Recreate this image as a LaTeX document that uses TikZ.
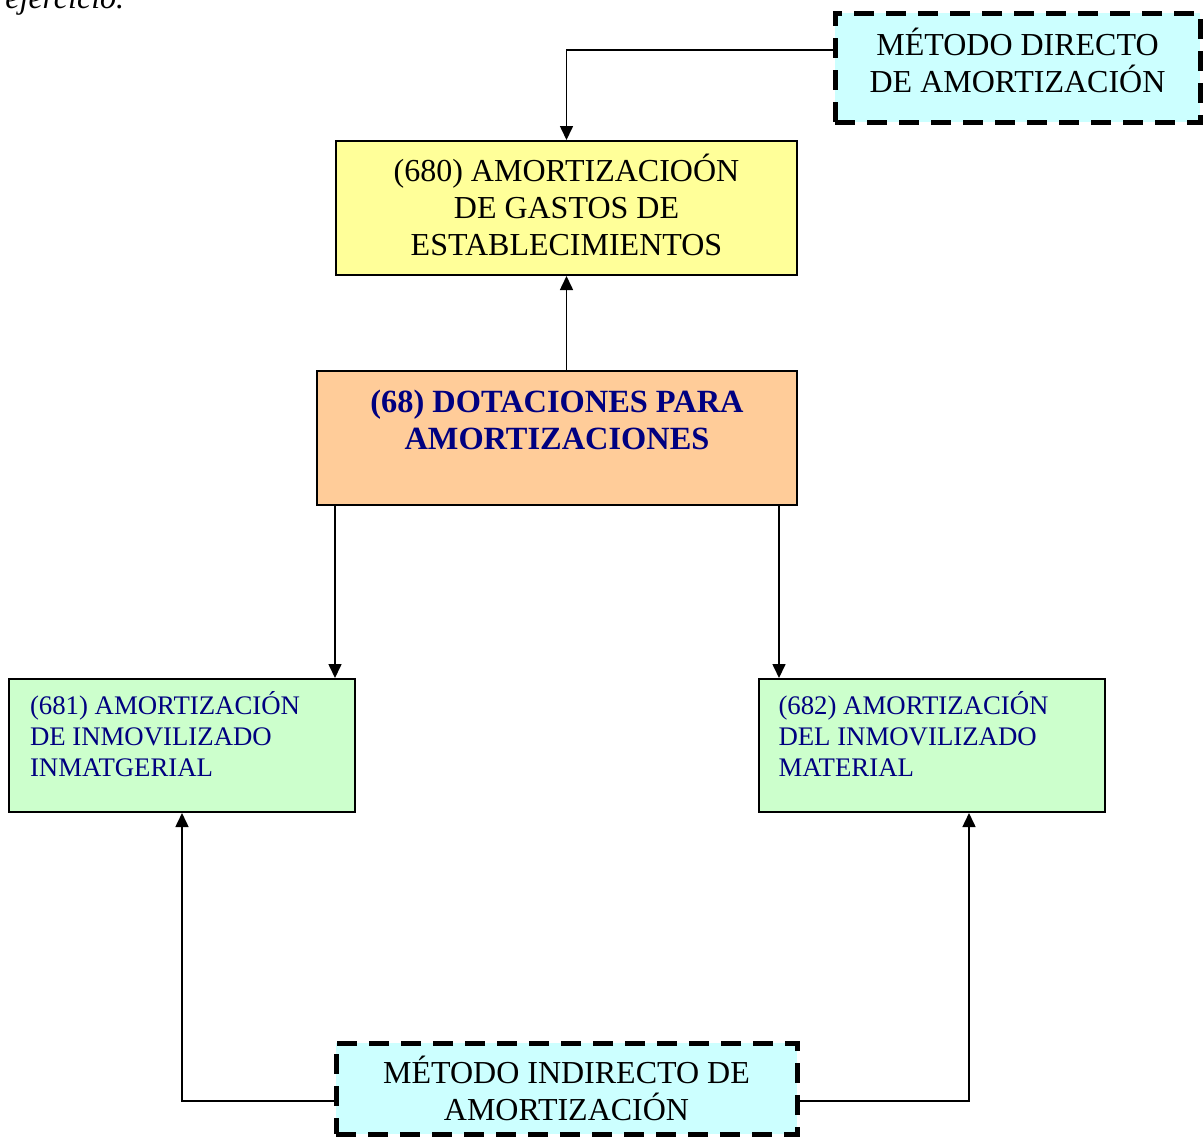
\documentclass[tikz,border=0pt]{standalone}
\usepackage{fontspec}
\setmainfont{Liberation Serif}
\usetikzlibrary{arrows.meta}
\definecolor{amarillo}{HTML}{FFFF99}
\definecolor{naranja}{HTML}{FFCC99}
\definecolor{verde}{HTML}{CCFFCC}
\definecolor{cian}{HTML}{CCFFFF}
\definecolor{azul}{HTML}{000080}
\begin{document}
\begin{tikzpicture}[x=0.5pt,y=-0.5pt,line join=miter,
  flecha/.style={line width=0.8pt,-{Triangle[length=7pt,width=6.5pt]}},
  caja/.style={draw,line width=1pt,inner sep=0pt,align=center,
    font=\fontsize{16}{18.5}\selectfont},
  metodo/.style={caja,fill=cian,line width=2.5pt,dash pattern=on 10pt off 6pt},
  cuenta/.style={caja,fill=verde,text=azul,font=\fontsize{13.4}{15.5}\selectfont}]
\useasboundingbox (0,0) rectangle (1204,1137);

% texto cortado arriba
\node[anchor=base west,inner sep=0pt,font=\fontsize{16}{18}\selectfont\itshape] (ej) at (5,8) {ejercicio.};

\node[metodo] (directo) at (1017.5,67.5)
  {\parbox[c][54.5pt][t]{182.5pt}{\centering\rule{0pt}{21pt}MÉTODO DIRECTO\\DE AMORTIZACIÓN}};
\node[caja,fill=amarillo] (c680) at (566.5,208)
  {\parbox[c][67pt][t]{230.5pt}{\centering\rule{0pt}{20pt}(680) AMORTIZACIOÓN\\DE GASTOS DE\\ESTABLECIMIENTOS}};
\node[caja,fill=naranja,text=azul,font=\fontsize{16.2}{18.5}\selectfont\bfseries] (c68) at (557,438)
  {\parbox[c][67pt][t]{240pt}{\centering\rule{0pt}{20.5pt}(68) DOTACIONES PARA\\AMORTIZACIONES}};
\node[cuenta] (c681) at (182,745.5)
  {\parbox[c][66.5pt][t]{173pt}{\raggedright\leftskip=10.5pt\rule{0pt}{17.5pt}(681) AMORTIZACIÓN\\DE INMOVILIZADO\\INMATGERIAL}};
\node[cuenta] (c682) at (931.5,745.5)
  {\parbox[c][66.5pt][t]{173pt}{\raggedright\leftskip=10pt\rule{0pt}{17.5pt}(682) AMORTIZACIÓN\\DEL INMOVILIZADO\\MATERIAL}};
\node[metodo,minimum width=230.5pt,minimum height=45.5pt] (indirecto) at (566.5,1088.5)
  {MÉTODO INDIRECTO DE\\AMORTIZACIÓN};

% conexiones
\draw[flecha] ([yshift=8.75pt]directo.west) -| (c680.north);
\draw[flecha] (c68.north -| c680.south) -- (c680.south);
\coordinate (s1) at ([xshift=9.5pt]c68.south west);
\coordinate (s2) at ([xshift=-9.5pt]c68.south east);
\draw[flecha] (s1) -- (s1 |- c681.north);
\draw[flecha] (s2) -- (s2 |- c682.north);
\draw[flecha] ([yshift=-6.25pt]indirecto.west) -| (c681.south);
\draw[flecha] ([yshift=-6.25pt]indirecto.east) -| ([xshift=18.75pt]c682.south);
\end{tikzpicture}
\end{document}
